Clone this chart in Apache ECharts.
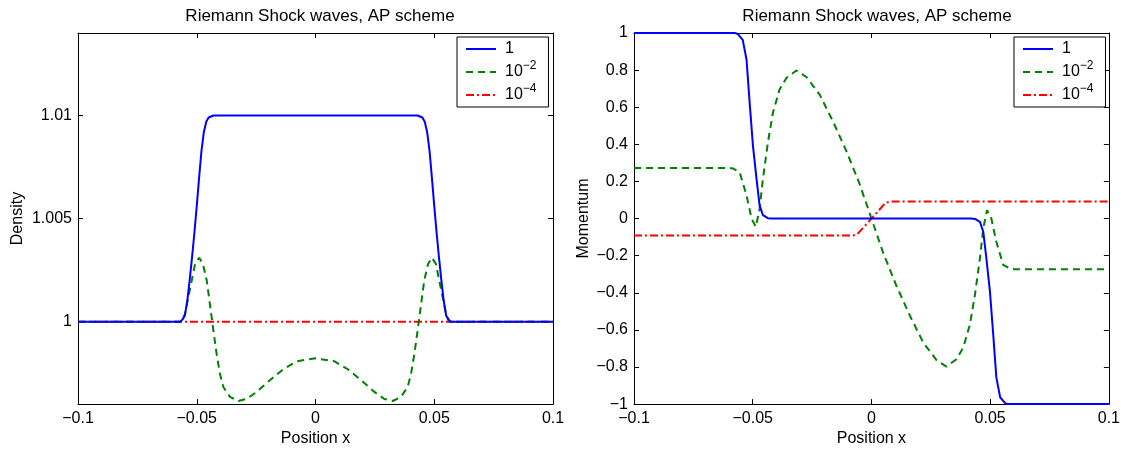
<!DOCTYPE html>
<html><head><meta charset="utf-8">
<script src="https://cdn.jsdelivr.net/npm/echarts@6/dist/echarts.min.js"></script>
<style>html,body{margin:0;padding:0;background:#fff}#c{width:1123px;height:452px}</style>
</head><body><div id="c"></div>
<script>
const titleText = 'Riemann Shock waves, AP scheme';
const xAxisName = 'Position x';
const leftYName = 'Density';
const rightYName = 'Momentum';
const seriesNames = ['1', '1e-2', '1e-4'];
const xTicks = [-0.1, -0.05, 0, 0.05, 0.1];
const densityTicks = [1, 1.005, 1.01];
const momentumTicks = [-1, -0.8, -0.6, -0.4, -0.2, 0, 0.2, 0.4, 0.6, 0.8, 1];

// Density, epsilon = 1
const densBlueX = [-0.1, -0.057, -0.056, -0.055, -0.054, -0.053, -0.052, -0.051, -0.050, -0.049, -0.048, -0.047, -0.046, -0.045, -0.043, 0.043, 0.045, 0.046, 0.047, 0.048, 0.049, 0.050, 0.051, 0.052, 0.053, 0.054, 0.055, 0.056, 0.057, 0.1];
const densBlueY = [1, 1, 1.0001, 1.0003, 1.0010, 1.0020, 1.0031, 1.0043, 1.0056, 1.0070, 1.0083, 1.0092, 1.0097, 1.0099, 1.0100, 1.0100, 1.0099, 1.0097, 1.0092, 1.0083, 1.0070, 1.0056, 1.0043, 1.0031, 1.0020, 1.0010, 1.0003, 1.0001, 1, 1];
// Density, epsilon = 1e-2
const densGreenX = [-0.1, -0.0562, -0.0549, -0.0537, -0.0521, -0.0507, -0.0490, -0.0474, -0.0458, -0.0444, -0.0430, -0.0416, -0.0402, -0.0388, -0.0360, -0.0325, -0.0290, -0.0248, -0.0192, -0.0136, -0.0079, 0, 0.0079, 0.0136, 0.0192, 0.0248, 0.0290, 0.0325, 0.0360, 0.0388, 0.0402, 0.0416, 0.0430, 0.0444, 0.0458, 0.0474, 0.0490, 0.0507, 0.0521, 0.0537, 0.0549, 0.0562, 0.1];
const densGreenY = [1, 1, 1.0004, 1.0011, 1.0020, 1.0028, 1.0031, 1.0028, 1.0020, 1.0008, 0.99957, 0.99841, 0.99745, 0.99683, 0.99635, 0.99615, 0.99625, 0.99659, 0.99716, 0.99769, 0.99808, 0.99822, 0.99808, 0.99769, 0.99716, 0.99659, 0.99625, 0.99615, 0.99635, 0.99683, 0.99745, 0.99841, 0.99957, 1.0008, 1.0020, 1.0028, 1.0031, 1.0028, 1.0020, 1.0011, 1.0004, 1, 1];
// Density, epsilon = 1e-4
const densRedX = [-0.1, 0.1];
const densRedY = [1, 1];

// Momentum, epsilon = 1
const momBlueX = [-0.1, -0.0575, -0.0563, -0.0542, -0.0526, -0.0513, -0.0499, -0.0484, -0.0471, -0.0457, -0.0436, -0.042, 0.042, 0.0436, 0.0457, 0.0471, 0.0484, 0.0499, 0.0513, 0.0526, 0.0542, 0.0563, 0.0575, 0.1];
const momBlueY = [1, 1, 0.995, 0.963, 0.856, 0.626, 0.392, 0.214, 0.071, 0.018, 0.002, 0, 0, -0.002, -0.018, -0.071, -0.214, -0.392, -0.626, -0.856, -0.963, -0.995, -1, -1];
// Momentum, epsilon = 1e-2
const momGreenX = [-0.1, -0.0600, -0.0584, -0.0555, -0.0526, -0.0505, -0.0487, -0.0471, -0.0457, -0.0436, -0.0415, -0.0387, -0.0358, -0.0316, -0.0274, -0.0218, -0.0163, -0.0106, -0.0050, 0, 0.0050, 0.0106, 0.0163, 0.0218, 0.0274, 0.0316, 0.0358, 0.0387, 0.0415, 0.0436, 0.0457, 0.0471, 0.0487, 0.0505, 0.0526, 0.0555, 0.0584, 0.0600, 0.1];
const momGreenY = [0.273, 0.273, 0.27, 0.25, 0.125, 0, -0.045, 0.053, 0.214, 0.41, 0.57, 0.695, 0.758, 0.798, 0.763, 0.668, 0.526, 0.365, 0.187, 0, -0.187, -0.365, -0.526, -0.668, -0.763, -0.798, -0.758, -0.695, -0.57, -0.41, -0.214, -0.053, 0.045, 0, -0.125, -0.25, -0.27, -0.273, -0.273];
// Momentum, epsilon = 1e-4
const momRedX = [-0.1, -0.0080, -0.0060, -0.0037, 0, 0.0037, 0.0060, 0.0080, 0.1];
const momRedY = [-0.092, -0.092, -0.085, -0.053, 0, 0.053, 0.085, 0.092, 0.092];

const zip = (xs, ys) => xs.map((x, i) => [x, ys[i]]);
const FONT = '"Liberation Sans", Arial, Helvetica, sans-serif';
const minus = s => String(s).replace('-', '\u2212');
const colors = ['#0000ff', '#008000', '#ff0000'];
const lineTypes = ['solid', [7, 5], [8, 3, 2, 3]];

const chart = echarts.init(document.getElementById('c'), null, {renderer: 'canvas'});

const axisLineStyle = {show: true, onZero: false, lineStyle: {color: '#000', width: 1}};
const tickStyle = {show: true, inside: true, length: 5, lineStyle: {color: '#000', width: 1}};
const labelStyle = {color: '#000', fontSize: 16, fontFamily: FONT};

function xAx(grid, bottom) {
  return {
    gridIndex: grid, type: 'value', min: -0.1, max: 0.1, interval: 0.05,
    position: bottom ? 'bottom' : 'top',
    axisLine: axisLineStyle, axisTick: Object.assign({customValues: xTicks}, tickStyle),
    axisLabel: bottom ? Object.assign({margin: 6, customValues: xTicks, formatter: v => minus(Math.round(v * 100) / 100)}, labelStyle) : {show: false},
    splitLine: {show: false},
    name: bottom ? xAxisName : '', nameLocation: 'middle', nameGap: 23,
    nameTextStyle: labelStyle
  };
}
function yAx(grid, left, min, max, ticks, name, gap) {
  return {
    gridIndex: grid, type: 'value', min: min, max: max,
    position: left ? 'left' : 'right',
    axisLine: axisLineStyle, axisTick: Object.assign({customValues: ticks}, tickStyle),
    axisLabel: left ? Object.assign({margin: 6, customValues: ticks, formatter: v => minus(Math.round(v * 1000) / 1000)}, labelStyle) : {show: false},
    splitLine: {show: false},
    name: left ? name : '', nameLocation: 'middle', nameGap: gap,
    nameTextStyle: labelStyle
  };
}

const legendFormatter = n => n === '1' ? '{n|1}' : (n === '1e-2' ? '{n|10}{s|\u22122}' : '{n|10}{s|\u22124}');
function legendAt(left) {
  return {
    left: left, top: 37, orient: 'vertical', data: seriesNames,
    backgroundColor: '#fff', borderColor: '#000', borderWidth: 1, borderRadius: 0,
    padding: [4, 12, 4, 8], itemGap: 3, itemWidth: 30, itemHeight: 19,
    itemStyle: {opacity: 0},
    selectedMode: false, formatter: legendFormatter,
    textStyle: {color: '#000', fontSize: 16, fontFamily: FONT,
      rich: {n: {fontSize: 16, fontFamily: FONT, padding: [0, 0, 0, 4], color: '#000'},
             s: {fontSize: 12, fontFamily: FONT, padding: [0, 0, 12, 0], color: '#000'}}}
  };
}

function mk(i, xIdx, yIdx, xs, ys) {
  return {
    name: seriesNames[i], type: 'line', xAxisIndex: xIdx, yAxisIndex: yIdx,
    data: zip(xs, ys), showSymbol: false, symbol: 'none', smooth: false,
    lineStyle: {color: colors[i], width: 2, type: lineTypes[i]},
    itemStyle: {color: colors[i], opacity: 0}, z: 3 - i
  };
}

chart.setOption({
  animation: false,
  backgroundColor: '#fff',
  title: [
    {text: titleText, left: 315, top: 3, textAlign: 'center', textStyle: {color: '#000', fontSize: 17, fontWeight: 'normal', fontFamily: FONT}},
    {text: titleText, left: 872, top: 3, textAlign: 'center', textStyle: {color: '#000', fontSize: 17, fontWeight: 'normal', fontFamily: FONT}}
  ],
  grid: [
    {left: 78, right: 570, top: 33, bottom: 45},
    {left: 634, right: 13, top: 33, bottom: 45}
  ],
  legend: [legendAt(457), legendAt(1014)],
  xAxis: [xAx(0, true), xAx(0, false), xAx(1, true), xAx(1, false)],
  yAxis: [
    yAx(0, true, 0.996, 1.014, densityTicks, leftYName, 52),
    yAx(0, false, 0.996, 1.014, densityTicks, '', 0),
    yAx(1, true, -1, 1, momentumTicks, rightYName, 42),
    yAx(1, false, -1, 1, momentumTicks, '', 0)
  ],
  series: [
    mk(0, 0, 0, densBlueX, densBlueY),
    mk(1, 0, 0, densGreenX, densGreenY),
    mk(2, 0, 0, densRedX, densRedY),
    mk(0, 2, 2, momBlueX, momBlueY),
    mk(1, 2, 2, momGreenX, momGreenY),
    mk(2, 2, 2, momRedX, momRedY)
  ]
});
</script>
</body></html>
